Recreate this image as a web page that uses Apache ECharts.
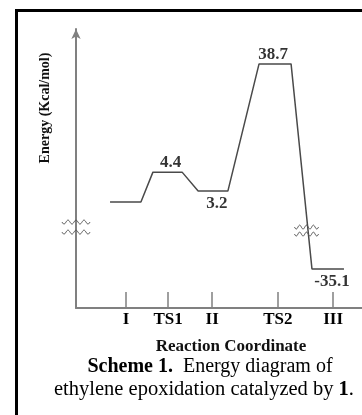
<!DOCTYPE html>
<html>
<head>
<meta charset="utf-8">
<script src="https://cdn.jsdelivr.net/npm/echarts@6/dist/echarts.min.js"></script>
<style>
  html, body { margin: 0; padding: 0; background: #fff; }
  #main { position: absolute; left: 0; top: 0; width: 362px; height: 415px; }
  #frame { position: absolute; left: 15px; top: 9px; right: -5px; bottom: -5px;
           border-left: 3px solid #000; border-top: 3px solid #000; pointer-events: none; }
</style>
</head>
<body>
<div id="main"></div>
<div id="frame"></div>
<script>
// stages of the reaction
var stageNames = ['I', 'TS1', 'II', 'TS2', 'III']
var tickPos = [1.75, 3.22, 4.76, 7.06, 8.99]
// plateau extents along the reaction coordinate
var levelFrom = [1.19, 2.69, 4.27, 6.40, 8.25]
var levelTo = [2.27, 3.71, 5.31, 7.52, 9.37]
// drawn height of each level (schematic, not to scale)
var levelY = [38.0, 48.7, 41.9, 87.5, 14.0]
// energies printed on the diagram
var energyText = ['', '4.4', '3.2', '38.7', '-35.1']
var labelPos = ['top', 'top', 'bottom', 'top', 'bottom']
// axis break marks [x, y]
var breakMarks = [[0, 30.8], [0, 27.2], [8.06, 29.0], [8.06, 26.5]]

var serif = '"Liberation Serif", "DejaVu Serif", serif'
var labelDx = [0, 3, 4, -2, 4]

var chart = echarts.init(document.getElementById('main'))

var pathData = []
for (var i = 0; i < stageNames.length; i++) {
    pathData.push([levelFrom[i], levelY[i]])
    pathData.push([levelTo[i], levelY[i]])
}

var labelData = []
for (var i = 0; i < stageNames.length; i++) {
    if (!energyText[i]) continue
    labelData.push({
        value: [(levelFrom[i] + levelTo[i]) / 2, levelY[i]],
        label: {
            show: true,
            position: labelPos[i],
            distance: labelPos[i] == 'top' ? 1 : 4,
            offset: [labelDx[i], 0],
            formatter: energyText[i]
        }
    })
}

function wavy(params, api) {
    var pt = api.coord([api.value(0), api.value(1)])
    var w = params.dataIndex < 2 ? 28 : 24
    var pts = []
    for (var k = 0; k <= 40; k++) {
        var t = k / 40
        pts.push([pt[0] - w / 2 + w * t, pt[1] + 2 * Math.sin(t * Math.PI * 2 * 3.5)])
    }
    return {
        type: 'polyline',
        shape: { points: pts },
        style: { stroke: '#555', lineWidth: 1, fill: null }
    }
}

var option = {
    animation: false,
    grid: { left: 76, right: 0, top: 29, bottom: 107, outerBoundsMode: 'none' },
    xAxis: {
        type: 'value',
        min: 0,
        max: 10,
        splitLine: { show: false },
        axisLine: { show: true, lineStyle: { color: '#808080', width: 2 } },
        axisTick: {
            show: true, inside: true, length: 16,
            customValues: tickPos,
            lineStyle: { color: '#808080', width: 1.5 }
        },
        axisLabel: {
            customValues: tickPos,
            margin: 3,
            color: '#000',
            fontFamily: serif,
            fontWeight: 'bold',
            fontSize: 17,
            formatter: function (v) {
                var idx = tickPos.indexOf(v)
                return idx >= 0 ? stageNames[idx] : ''
            }
        }
    },
    yAxis: {
        type: 'value',
        min: 0,
        max: 100,
        splitLine: { show: false },
        axisTick: { show: false },
        axisLabel: { show: false },
        axisLine: {
            show: true,
            symbol: ['none', 'arrow'],
            symbolSize: [7, 10],
            lineStyle: { color: '#808080', width: 2 }
        }
    },
    graphic: [
        {
            type: 'text', x: 45, y: 108, rotation: Math.PI / 2,
            style: {
                text: 'Energy (Kcal/mol)', fill: '#111',
                font: 'bold 14px ' + serif, align: 'center', verticalAlign: 'middle'
            }
        },
        {
            type: 'text', x: 231, y: 347,
            style: {
                text: 'Reaction Coordinate', fill: '#111',
                font: 'bold 17px ' + serif, align: 'center', verticalAlign: 'middle'
            }
        },
        {
            type: 'text', x: 210, y: 367,
            style: {
                text: '{b|Scheme 1.}  Energy diagram of', fill: '#000',
                font: '20px ' + serif, align: 'center', verticalAlign: 'middle',
                rich: { b: { font: 'bold 20px ' + serif, fill: '#000' } }
            }
        },
        {
            type: 'text', x: 204, y: 390,
            style: {
                text: 'ethylene epoxidation catalyzed by {b|1}.', fill: '#000',
                font: '20.5px ' + serif, align: 'center', verticalAlign: 'middle',
                rich: { b: { font: 'bold 20.5px ' + serif, fill: '#000' } }
            }
        }
    ],
    series: [
        {
            type: 'line',
            data: pathData,
            symbol: 'none',
            lineStyle: { color: '#4a4a4a', width: 1.5 },
            z: 3
        },
        {
            type: 'scatter',
            data: labelData,
            symbolSize: 0,
            label: {
                color: '#000',
                fontFamily: serif,
                fontWeight: 'bold',
                fontSize: 17
            },
            z: 4
        },
        {
            type: 'custom',
            data: breakMarks,
            renderItem: wavy,
            clip: false,
            z: 5
        }
    ]
}

chart.setOption(option)
</script>
</body>
</html>
